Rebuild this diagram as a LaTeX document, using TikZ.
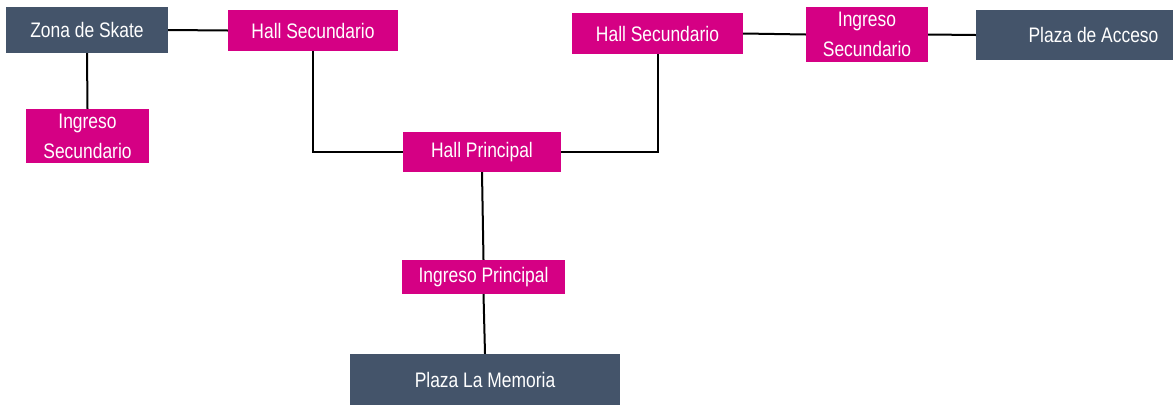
\documentclass[tikz,border=0pt]{standalone}
\usepackage{fontspec}
\setmainfont[FakeStretch=0.83]{Liberation Sans}
\definecolor{myslate}{RGB}{68,84,106}
\definecolor{mymagenta}{RGB}{213,0,132}
\usetikzlibrary{positioning}
\tikzset{
  bxS/.style 2 args={draw=none, fill=myslate, text=white, inner sep=0pt,
              minimum width=#1, minimum height=#2, align=center},
  bxM/.style 2 args={draw=none, fill=mymagenta, text=white, inner sep=0pt,
              minimum width=#1, minimum height=#2, align=center},
  lnk/.style={draw=black, line width=2pt},
}
\begin{document}
\begin{tikzpicture}[x=1pt, y=-1pt, every node/.style={font=\fontsize{21}{30}\selectfont}]
    \useasboundingbox (0,0) rectangle (1173,405);

    \node[bxS={162}{46}] (skate)  at (87,  30)  {Zona de Skate};
    \node[bxM={170}{41}] (hsL)    at (313, 30.5){Hall Secundario};
    \node[bxM={123}{54}] (isL)    at (87.5,136) {Ingreso\\Secundario};
    \node[bxM={158}{40}] (hp)     at (482, 152) {Hall Principal};
    \node[bxM={171}{41}] (hsR)    at (657.5,33.5){Hall Secundario};
    \node[bxM={122}{55}] (isR)    at (867, 34.5){Ingreso\\Secundario};
    \node[bxS={197}{50}] (acceso) at (1074.5,35){\hspace*{38pt}Plaza de Acceso};
    \node[bxM={163}{34}] (ip)     at (483.5,277){Ingreso Principal};
    \node[bxS={270}{51}] (memo)   at (485, 379.5){Plaza La Memoria};

    \draw[lnk] (skate.east) -- (hsL.west);
    \draw[lnk] (skate.south) -- (isL.north);
    \draw[lnk] (hsL.south) |- (hp.west);
    \draw[lnk] (hp.east) -| (hsR.south);
    \draw[lnk] (hsR.east) -- (isR.west);
    \draw[lnk] (isR.east) -- (acceso.west);
    \draw[lnk] (hp.south) -- (ip.north);
    \draw[lnk] (ip.south) -- (memo.north);
  \end{tikzpicture}
\end{document}
